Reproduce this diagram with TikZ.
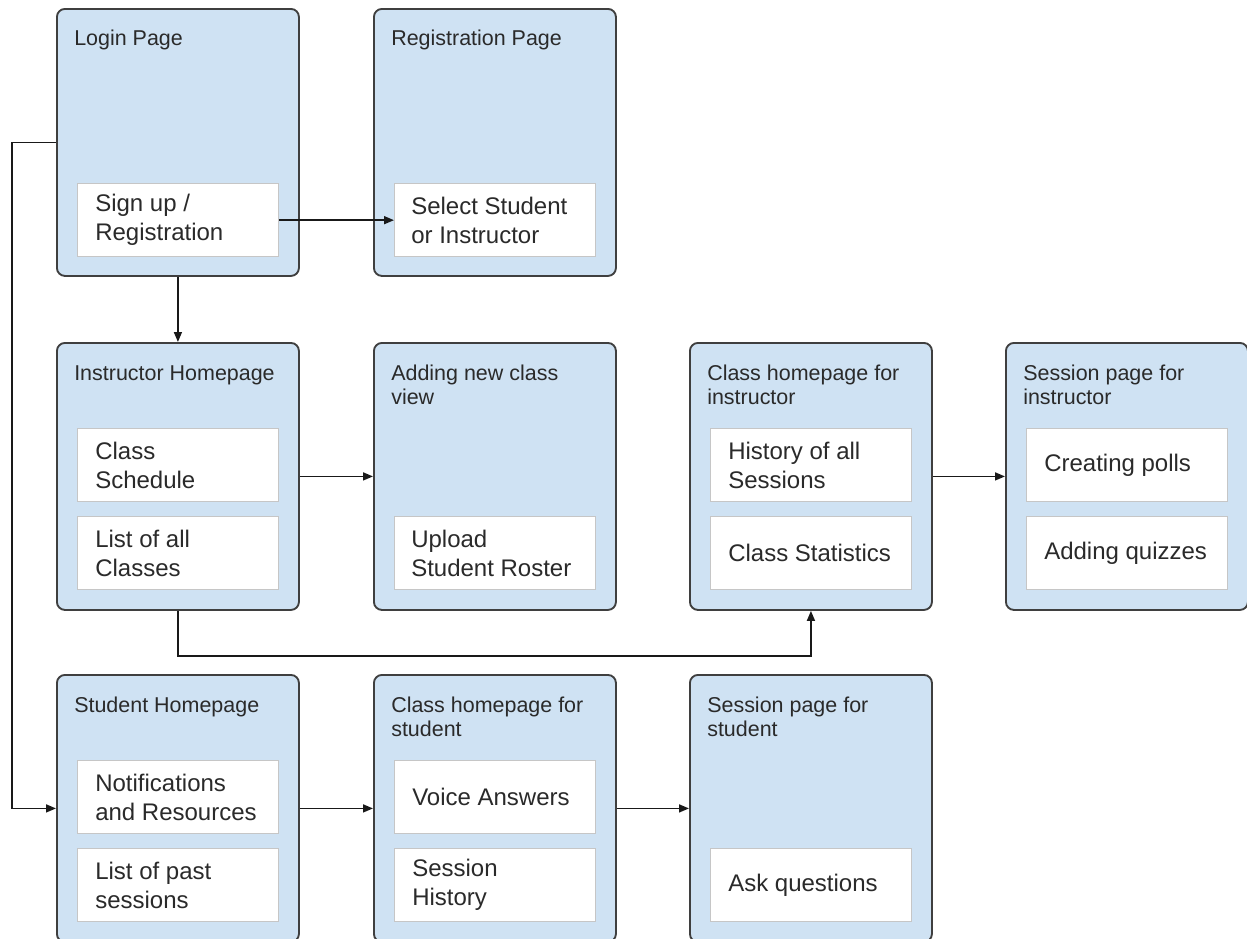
\documentclass[tikz,border=0pt]{standalone}
\usepackage{fontspec}
\setmainfont{Liberation Sans}
\usetikzlibrary{arrows.meta}
\definecolor{pagefill}{HTML}{CFE2F3}
\definecolor{pageedge}{HTML}{3F3F3F}
\definecolor{itemedge}{HTML}{C6C6C6}
\definecolor{inktext}{HTML}{2A2A2A}

% stacked title lines; the baseline is that of the first line
\newcommand\titlelines[1]{\vtop{\halign{##\hfil\cr#1\crcr}}}

\begin{document}
\begin{tikzpicture}[x=0.75pt,y=-0.75pt,
  page/.style={draw=pageedge, fill=pagefill, line width=1.4pt, rounded corners=6pt,
    minimum width=181.5pt, minimum height=200.25pt, inner sep=0pt, anchor=north west},
  item/.style={draw=itemedge, fill=white, line width=1pt,
    minimum width=150.75pt, minimum height=54.75pt, inner sep=0pt, anchor=north west},
  ttl/.style={anchor=base west, inner sep=0pt, text=inktext,
    font=\fontsize{16.1pt}{18pt}\selectfont},
  txt/.style={anchor=west, inner sep=0pt, align=left, text=inktext,
    font=\fontsize{18pt}{21.75pt}\selectfont},
  link/.style={draw=black!90, line width=1.2pt, -{Triangle[length=7.5pt,width=6pt]}},
]
\useasboundingbox (0,0) rectangle (1247,939);
\clip (0,0) rectangle (1247,939);

% ---- pages ----
\node[page] (login)  at (56,8)    {};
\node[page] (reg)    at (373,8)   {};
\node[page] (ihome)  at (56,342)  {};
\node[page] (addcls) at (373,342) {};
\node[page] (cinst)  at (689,342) {};
\node[page] (sinst)  at (1005,342) {};
\node[page] (shome)  at (56,674)  {};
\node[page] (cstu)   at (373,674) {};
\node[page] (sstu)   at (689,674) {};

% ---- page titles ----
\node[ttl] (loginT)  at (74,45)   {\titlelines{Login Page}};
\node[ttl] (regT)    at (391,45)  {\titlelines{Registration Page}};
\node[ttl] (ihomeT)  at (74,380)  {\titlelines{Instructor Homepage}};
\node[ttl] (addclsT) at (391,380) {\titlelines{Adding new class\cr view}};
\node[ttl] (cinstT)  at (707,380) {\titlelines{Class homepage for\cr instructor}};
\node[ttl] (sinstT)  at (1023,380) {\titlelines{Session page for\cr instructor}};
\node[ttl] (shomeT)  at (74,712)  {\titlelines{Student Homepage}};
\node[ttl] (cstuT)   at (391,712) {\titlelines{Class homepage for\cr student}};
\node[ttl] (sstuT)   at (707,712) {\titlelines{Session page for\cr student}};

% ---- items inside the pages ----
\node[item] (signup) at (77,183)  {};
\node[txt] (signupT) at ([xshift=13.5pt]signup.west) {Sign up /\\Registration};
\node[item] (select) at (394,183) {};
\node[txt] (selectT) at ([xshift=12.75pt]select.west) {Select Student\\or Instructor};

\node[item] (sched) at (77,428) {};
\node[txt] (schedT) at ([xshift=13.5pt]sched.west) {Class\\Schedule};
\node[item] (allcls) at (77,516) {};
\node[txt] (allclsT) at ([xshift=13.5pt]allcls.west) {List of all\\Classes};

\node[item] (roster) at (394,516) {};
\node[txt] (rosterT) at ([xshift=12.75pt]roster.west) {Upload\\Student Roster};

\node[item] (hist) at (710,428) {};
\node[txt] (histT) at ([xshift=13.5pt]hist.west) {History of all\\Sessions};
\node[item] (stats) at (710,516) {};
\node[txt] (statsT) at ([xshift=13.5pt]stats.west) {Class Statistics};

\node[item] (polls) at (1026,428) {};
\node[txt] (pollsT) at ([xshift=13.5pt]polls.west) {Creating polls};
\node[item] (quiz) at (1026,516) {};
\node[txt] (quizT) at ([xshift=13.5pt]quiz.west) {Adding quizzes};

\node[item] (notif) at (77,760) {};
\node[txt] (notifT) at ([xshift=13.5pt]notif.west) {Notifications\\and Resources};
\node[item] (past) at (77,848) {};
\node[txt] (pastT) at ([xshift=13.5pt]past.west) {List of past\\sessions};

\node[item] (voice) at (394,760) {};
\node[txt] (voiceT) at ([xshift=13.5pt]voice.west) {Voice Answers};
\node[item] (shist) at (394,848) {};
\node[txt] (shistT) at ([xshift=13.5pt]shist.west) {Session\\History};

\node[item] (ask) at (710,848) {};
\node[txt] (askT) at ([xshift=13.5pt]ask.west) {Ask questions};

% ---- navigation links ----
\draw[link] (signup.east) -- (select.west);
\draw[link] (login.south) -- (ihome.north);
\draw[link] (login.west) -- ++(-44,0) |- (shome.west);
\draw[link] (ihome.east) -- (addcls.west);
\draw[link] (ihome.south) -- ++(0,45) -| (cinst.south);
\draw[link] (cinst.east) -- (sinst.west);
\draw[link] (shome.east) -- (cstu.west);
\draw[link] (cstu.east) -- (sstu.west);
\end{tikzpicture}
\end{document}
